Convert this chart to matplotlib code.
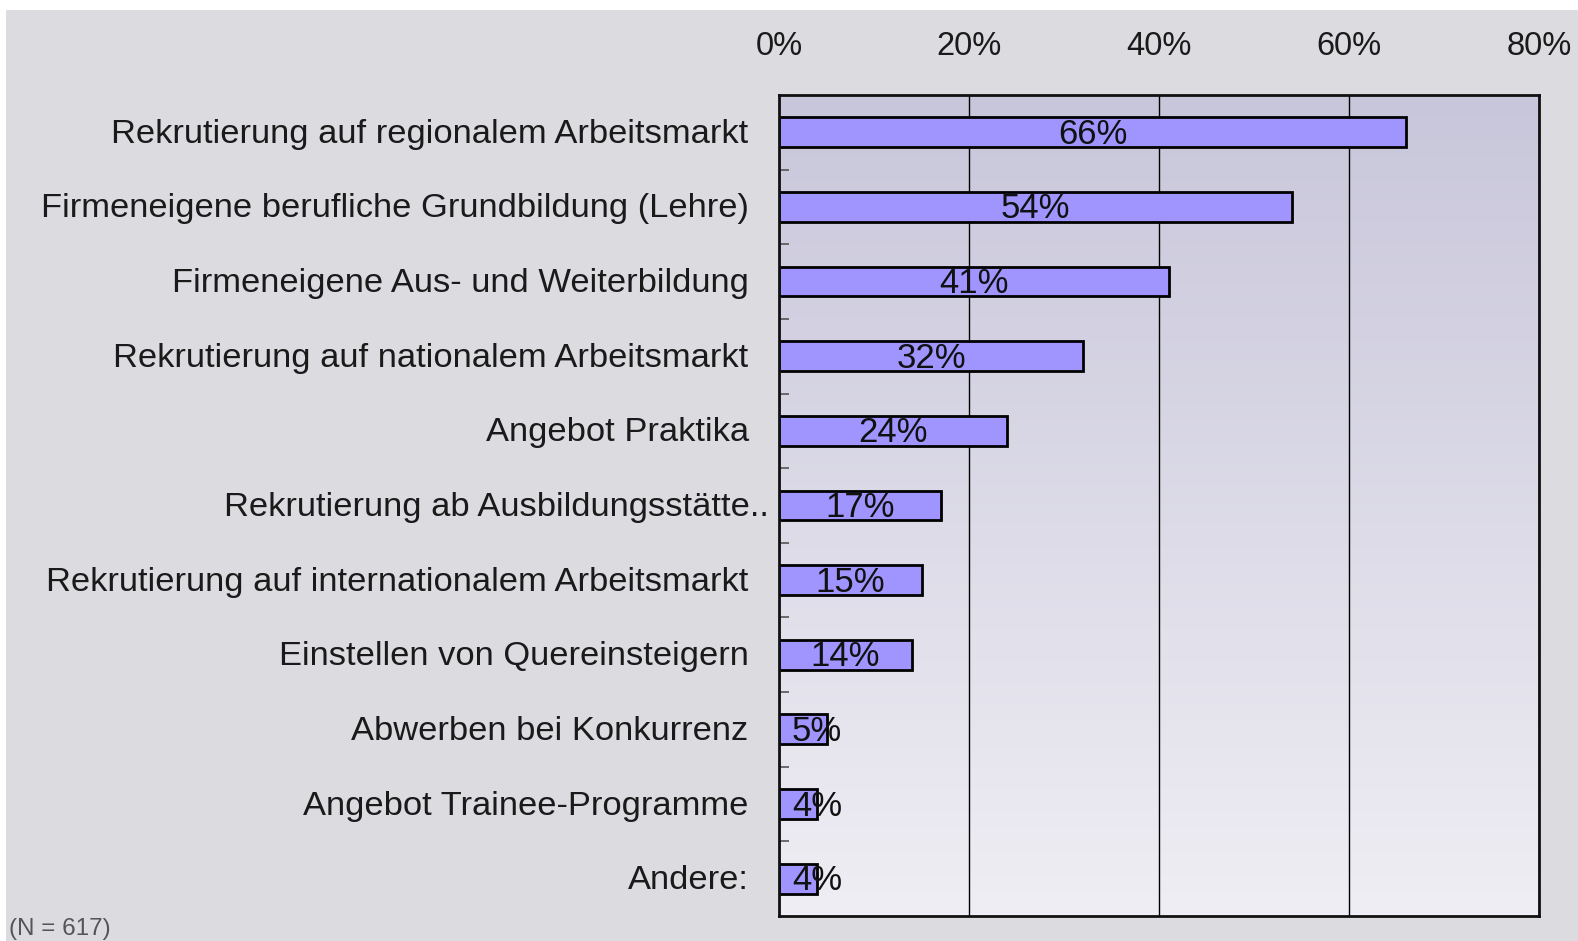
import numpy as np
import matplotlib.pyplot as plt
from matplotlib.ticker import FixedLocator

plt.rcParams["font.family"] = ["Liberation Sans", "DejaVu Sans"]

# ── data ───────────────────────────────────────────────────────────────────────
categories = [
    "Rekrutierung auf regionalem Arbeitsmarkt",
    "Firmeneigene berufliche Grundbildung (Lehre)",
    "Firmeneigene Aus- und Weiterbildung",
    "Rekrutierung auf nationalem Arbeitsmarkt",
    "Angebot Praktika",
    "Rekrutierung ab Ausbildungsstätte..",
    "Rekrutierung auf internationalem Arbeitsmarkt",
    "Einstellen von Quereinsteigern",
    "Abwerben bei Konkurrenz",
    "Angebot Trainee-Programme",
    "Andere:",
]
values = [66, 54, 41, 32, 24, 17, 15, 14, 5, 4, 4]
x_ticks = [0, 20, 40, 60, 80]
note = "(N = 617)"

# ── figure ─────────────────────────────────────────────────────────────────────
fig = plt.figure(figsize=(15.78, 9.41), dpi=100, facecolor="white")
fig.patches.append(
    plt.Rectangle((0.004, 0.0), 0.996, 0.989, transform=fig.transFigure,
                  facecolor="#dcdbe0", edgecolor="none", zorder=-10)
)
ax = fig.add_axes([0.4937, 0.0266, 0.4816, 0.8725])

n = len(categories)
ys = np.arange(n)

# gradient background in plot area
grad = np.linspace(0, 1, 256).reshape(-1, 1)
top = np.array([200, 198, 218]) / 255
bot = np.array([239, 238, 244]) / 255
img = top + (bot - top) * grad[..., None]
ax.imshow(img, extent=[0, 80, n - 0.5, -0.5], aspect="auto", zorder=0)

ax.barh(ys, values, height=0.4, color="#a095ff", edgecolor="black",
        linewidth=2.0, zorder=3)

for y, v in zip(ys, values):
    ax.annotate(f"{v}%", (max(v / 2, 4), y), xytext=(0, -1.5),
                textcoords="offset points", ha="center", va="center",
                fontsize=25, color="#111111", zorder=4)

for y, label in zip(ys, categories):
    xoff = -0.013 if label.endswith("..") else -0.04
    ax.annotate(label, (xoff, y), xycoords=ax.get_yaxis_transform(),
                xytext=(0, -1.5), textcoords="offset points",
                ha="right", va="center", fontsize=24.8, color="#1a1a1a")

ax.set_xlim(0, 80)
ax.set_ylim(n - 0.5, -0.5)
ax.set_xticks(x_ticks)
ax.set_xticklabels([f"{t}%" for t in x_ticks], fontsize=23.5, color="#1a1a1a")
ax.xaxis.tick_top()
ax.tick_params(axis="x", length=0, pad=24)
ax.xaxis.grid(True, color="black", linewidth=1.0)
ax.set_axisbelow(False)
for gl in ax.get_xgridlines():
    gl.set_zorder(1)

ax.set_yticks([])
ax.yaxis.set_minor_locator(FixedLocator(ys[:-1] + 0.5))
ax.tick_params(axis="y", which="minor", direction="in", length=7,
               width=1.2, color="#555555")

for s in ax.spines.values():
    s.set_linewidth(2)
    s.set_color("#111111")
    s.set_zorder(5)

fig.text(0.006, 0.013, note, fontsize=17.5, color="#555555",
         ha="left", va="center")

fig.savefig("out.png", dpi=100)
